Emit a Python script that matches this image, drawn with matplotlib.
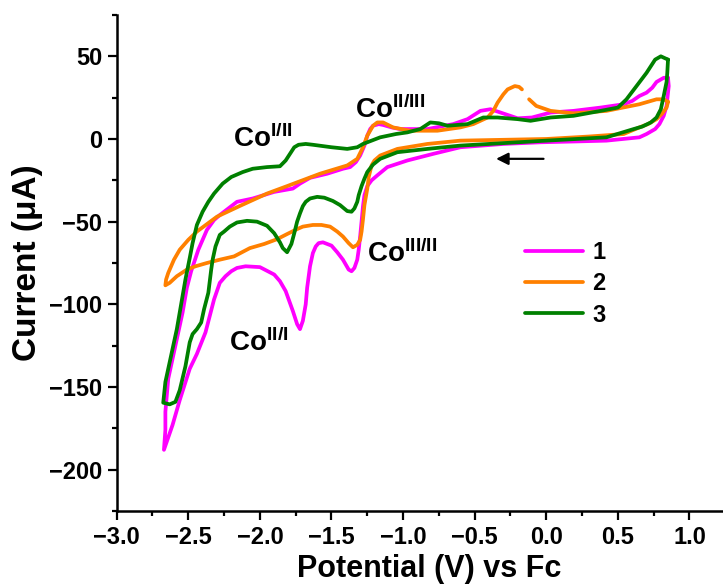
import matplotlib
matplotlib.use('Agg')
import matplotlib.pyplot as plt
import numpy as np

plt.rcParams['font.family'] = ['Liberation Sans', 'DejaVu Sans']
plt.rcParams['font.weight'] = 'bold'
plt.rcParams['mathtext.fontset'] = 'custom'
plt.rcParams['mathtext.rm'] = 'Liberation Sans:bold'
plt.rcParams['mathtext.it'] = 'Liberation Sans:bold'
plt.rcParams['mathtext.bf'] = 'Liberation Sans:bold'

# curve 1 (magenta): potential (V vs Fc) and current (uA), read along the closed loop
E1 = [0.85, 0.855, 0.85, 0.84, 0.82, 0.79, 0.76, 0.70, 0.65, 0.42, 0.20, -0.04, -0.30, -0.60, -0.79, -0.97,
      -1.11, -1.18, -1.22, -1.25, -1.27, -1.28, -1.29, -1.30, -1.31, -1.32, -1.34, -1.36, -1.38, -1.39, -1.42,
      -1.46, -1.50, -1.56, -1.59, -1.61, -1.63, -1.65, -1.67, -1.68, -1.70, -1.72, -1.74, -1.77, -1.82, -1.86,
      -1.90, -2.00, -2.10, -2.16, -2.20, -2.24, -2.28, -2.32, -2.38, -2.44, -2.49, -2.56, -2.61, -2.67,
      -2.66, -2.66, -2.64, -2.59, -2.54, -2.51, -2.48, -2.43, -2.37, -2.32, -2.28, -2.16, -2.05, -1.90, -1.77,
      -1.72, -1.65, -1.53, -1.42, -1.37, -1.33, -1.30, -1.27, -1.25, -1.23, -1.21, -1.17, -1.14, -1.08, -1.02,
      -0.83, -0.65, -0.55, -0.46, -0.39, -0.32, -0.20, -0.10, 0.03, 0.19, 0.38, 0.54, 0.60, 0.65, 0.70, 0.74,
      0.77, 0.82, 0.85]
I1 = [37, 32, 28, 20, 14, 9, 6, 3, 1, -1, -1.5, -2, -3, -5, -9, -13,
      -17, -22, -25, -28.5, -34, -40.6, -50, -59, -67, -73, -78, -80, -79, -77.5, -73,
      -68.5, -64.5, -62.5, -63, -65, -69, -77, -90, -100, -110, -115, -112, -104, -92, -86,
      -82, -77.5, -77, -78, -80, -83, -87, -97, -117, -130, -139, -158, -173, -188,
      -176, -165, -145, -125, -105, -90, -80, -67, -55, -49, -46, -38, -36, -32, -30,
      -27, -23.5, -21, -18, -17, -14, -10, -4, 2, 6, 8, 9, 8.5, 7, 6,
      6, 9, 12, 17, 18, 16, 12.5, 13, 16, 17, 19, 21, 23, 26, 28, 31,
      34.5, 37, 37]

# curve 2 (orange), nan marks the small break near -0.15 V
E2 = [0.85, 0.84, 0.81, 0.77, 0.71, 0.65, 0.54, 0.30, 0.00, -0.30, -0.60, -0.83, -1.04, -1.16, -1.20, -1.22,
      -1.24, -1.25, -1.27, -1.28, -1.29, -1.30, -1.32, -1.35, -1.38, -1.42, -1.46, -1.51, -1.57, -1.63, -1.70,
      -1.74, -1.81, -1.88, -1.97, -2.07, -2.18, -2.28, -2.37, -2.45, -2.51, -2.58, -2.63, -2.66,
      -2.655, -2.64, -2.60, -2.56, -2.50, -2.44, -2.30, -2.14, -1.95, -1.81, -1.58, -1.39, -1.32, -1.28, -1.25,
      -1.21, -1.18, -1.14, -1.07, -0.95, -0.76, -0.60, -0.51, -0.41, -0.37, -0.34, -0.30, -0.27, -0.22, -0.19,
      -0.17, np.nan, -0.12, -0.07, 0.03, 0.19, 0.42, 0.65, 0.77, 0.82, 0.85]
I2 = [22.5, 19, 15.5, 12, 9, 7, 3, 1.5, 0, -0.5, -1, -3, -6, -10, -13, -16,
      -23, -30, -40, -48.5, -56, -61, -64, -65.5, -63, -59, -56, -53, -52, -52, -53,
      -54.5, -57.5, -60.6, -63.5, -66, -71, -73, -75, -77, -79, -83, -87, -88.5,
      -85, -81, -73, -67, -61, -56, -47, -40.5, -33, -28.5, -21, -16, -12, -5, 2,
      8, 10, 10, 7, 5, 5, 7, 9, 13, 17, 22, 27, 30, 32, 31.5,
      30, np.nan, 24, 20, 17, 15.5, 17, 21, 24, 24, 22.5]

# curve 3 (green)
E3 = [0.85, 0.845, 0.84, 0.82, 0.80, 0.77, 0.73, 0.67, 0.61, 0.42, 0.00, -0.30, -0.60, -0.83, -1.04, -1.16,
      -1.21, -1.25, -1.27, -1.29, -1.31, -1.32, -1.34, -1.36, -1.39, -1.44, -1.49, -1.55, -1.60, -1.65, -1.68,
      -1.70, -1.72, -1.74, -1.76, -1.78, -1.81, -1.84, -1.86, -1.90, -1.95, -2.02, -2.09, -2.16, -2.21, -2.25,
      -2.28, -2.31, -2.33, -2.34, -2.36, -2.39, -2.41, -2.44, -2.47, -2.49, -2.52, -2.56, -2.59, -2.63, -2.675,
      -2.66, -2.63, -2.58, -2.54, -2.52, -2.49, -2.47, -2.44, -2.40, -2.36, -2.32, -2.26, -2.20, -2.12, -2.05,
      -1.95, -1.86, -1.82, -1.79, -1.76, -1.73, -1.68, -1.63, -1.50, -1.39, -1.32, -1.28, -1.22, -1.16, -1.05,
      -0.97, -0.88, -0.81, -0.75, -0.69, -0.55, -0.44, -0.34, -0.20, -0.11, 0.03, 0.19, 0.38, 0.50, 0.56,
      0.63, 0.70, 0.76, 0.80, 0.85]
I3 = [48, 40, 34.5, 26, 18, 13, 10, 7.5, 6, 1, -1, -2.5, -4, -6, -8, -12,
      -15.5, -20, -24, -28.5, -34, -38, -42, -44, -43.6, -40, -37.5, -35.5, -35, -36, -38,
      -40.6, -45, -50, -57, -63.5, -68.5, -66, -62.5, -57, -52.5, -50, -49.5, -50.5, -53, -56,
      -58, -65, -73, -79, -93, -103, -111, -115, -118, -123, -137.5, -152, -159, -160.5, -159.5,
      -147, -135, -115, -95, -85, -72, -63, -52, -44, -38, -33, -27, -23, -20, -18,
      -17, -16.5, -13, -9, -5, -3.5, -3, -3.5, -5, -6, -5, -3, -1, 1, 3,
      4, 6, 10, 9.5, 8, 9, 13, 13, 12, 11, 13, 14, 17, 19, 24,
      32, 40, 48, 50, 48]

labels = ['1', '2', '3']
colors = ['#FF00FF', '#FF8000', '#008000']

# peak labels: text, left x, baseline y
peak_text = ['Co$^{I/II}$', 'Co$^{II/III}$', 'Co$^{III/II}$', 'Co$^{II/I}$']
peak_x = [-2.19, -1.336, -1.252, -2.216]
peak_y = [-4.8, 12.7, -74.5, -128.5]

fig = plt.figure(figsize=(7.23, 5.85), dpi=100)
ax = fig.add_axes([0.1614, 0.1265, 0.8386, 0.8479])

for E, I, lab, c in zip([E1, E2, E3], [I1, I2, I3], labels, colors):
    ax.plot(E, I, color=c, lw=2.7, label=lab, solid_joinstyle='round', solid_capstyle='round')

for t, x, y in zip(peak_text, peak_x, peak_y):
    ax.text(x, y, t, fontsize=20, fontweight='bold', ha='left', va='baseline')

# scan direction arrow
ax.annotate('', xy=(-0.37, -12), xytext=(0.0, -12),
            arrowprops=dict(arrowstyle='-|>', color='black', lw=1.6, mutation_scale=18))

ax.set_xlim(-3.0, 1.234)
ax.set_ylim(-225, 75)
ax.xaxis.set_major_locator(plt.MultipleLocator(0.5))
ax.xaxis.set_minor_locator(plt.MultipleLocator(0.25))
ax.yaxis.set_major_locator(plt.MultipleLocator(50))
ax.yaxis.set_minor_locator(plt.MultipleLocator(25))

for s in ['top', 'right']:
    ax.spines[s].set_visible(False)
for s in ['left', 'bottom']:
    ax.spines[s].set_linewidth(1.8)
ax.tick_params(which='major', direction='out', length=6.5, width=1.6, labelsize=17, pad=4)
ax.tick_params(which='minor', direction='out', length=3.5, width=1.6)

ax.set_xlabel('Potential (V) vs Fc', fontsize=22, fontweight='bold', labelpad=4)
ax.xaxis.label.set_x(0.515)
ax.set_ylabel('Current (\u03bcA)', fontsize=24, fontweight='bold', labelpad=4)

ax.legend(loc='center left', bbox_to_anchor=(0.673, 0.458), frameon=False, fontsize=17,
          handlelength=2.45, handletextpad=0.4, labelspacing=0.35, borderpad=0, borderaxespad=0)

fig.savefig('out.png', dpi=100)
